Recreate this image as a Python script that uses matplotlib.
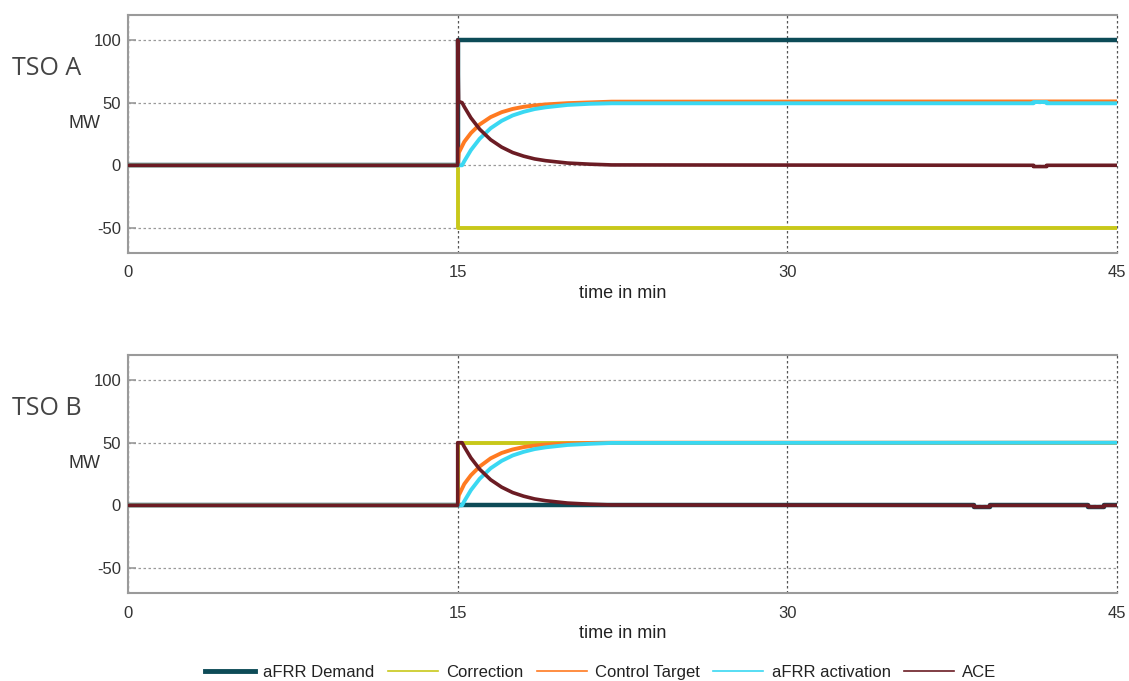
import matplotlib
matplotlib.use("Agg")
import matplotlib.pyplot as plt
from matplotlib.lines import Line2D

plt.rcParams['font.family'] = ['Liberation Sans', 'DejaVu Sans']
plt.rcParams['axes.unicode_minus'] = False

# --- data (time in min, power in MW) ---
demand_t_a = [0, 15, 15, 45]
demand_v_a = [0, 0, 100, 100]
demand_t_b = [0, 38.5, 38.5, 39.2, 39.2, 43.7, 43.7, 44.4, 44.4, 45]
demand_v_b = [0, 0, -1, -1, 0, 0, -1, -1, 0, 0]

corr_t = [0, 15, 15, 45]
corr_v_a = [0, 0, -50, -50]
corr_v_b = [0, 0, 50, 50]

target_t = [0, 15, 15.05, 15.3, 15.6, 16, 16.5, 17, 17.5, 18, 18.5, 19, 20, 21, 22, 45]
target_v_a = [0, 0, 10, 18.8, 25.7, 32.6, 38.5, 42.4, 45, 46.7, 47.8, 48.6, 49.6, 50.2, 50.8, 51]
target_v_b = [0, 0, 8, 17, 24, 31, 37.5, 41.8, 44.6, 46.5, 47.7, 48.5, 49.4, 49.8, 50, 50]

activ_t = [0, 15.2, 15.3, 15.6, 16, 16.5, 17, 17.5, 18, 18.5, 19, 20, 21, 22, 41.2, 41.2, 41.8, 41.8, 45]
activ_v_a = [0, 0, 3.3, 12.1, 21.2, 29.6, 35.5, 39.8, 42.7, 44.9, 46.3, 48.2, 49.1, 49.5, 49.5, 50.5, 50.5, 49.5, 49.5]
activ_v_b = [0, 0, 3.3, 12.1, 21.2, 29.6, 35.5, 39.8, 42.7, 44.9, 46.3, 48.2, 49.1, 49.8, 50, 50, 50, 50, 50]

ace_t_a = [0, 15, 15, 15.04, 15.2, 15.3, 15.6, 16, 16.5, 17, 17.5, 18, 18.5, 19, 20, 21, 22,
           41.2, 41.2, 41.8, 41.8, 45]
ace_v_a = [0, 0, 100, 51, 50, 46.7, 37.9, 28.8, 20.4, 14.5, 10.2, 7.3, 5.1, 3.7, 1.8, 0.9, 0.3,
           0, -1, -1, 0, 0]
ace_t_b = [0, 15, 15, 15.2, 15.3, 15.6, 16, 16.5, 17, 17.5, 18, 18.5, 19, 20, 21, 22,
           38.5, 38.5, 39.2, 39.2, 43.7, 43.7, 44.4, 44.4, 45]
ace_v_b = [0, 0, 50, 50, 46.7, 37.9, 28.8, 20.4, 14.5, 10.2, 7.3, 5.1, 3.7, 1.8, 0.9, 0.3,
           0, -1.2, -1.2, 0, 0, -1.2, -1.2, 0, 0]

x_ticks = [0, 15, 30, 45]
y_ticks = [-50, 0, 50, 100]
names = ["aFRR Demand", "Correction", "Control Target", "aFRR activation", "ACE"]
colors = ["#0d4b57", "#c8c81a", "#ff7a21", "#3ad8f2", "#6b1c24"]

fig = plt.figure(figsize=(11.29, 6.81), dpi=100)
ax_a = fig.add_axes([0.1134, 0.6285, 0.876, 0.3495])
ax_b = fig.add_axes([0.1134, 0.1292, 0.876, 0.3495])

panels = [
    (ax_a, "TSO A", demand_t_a, demand_v_a, corr_v_a, target_v_a, activ_v_a, ace_t_a, ace_v_a),
    (ax_b, "TSO B", demand_t_b, demand_v_b, corr_v_b, target_v_b, activ_v_b, ace_t_b, ace_v_b),
]

for ax, title, dt, dv, cv, tv, av, at, acv in panels:
    ax.plot(dt, dv, color=colors[0], lw=3.2, zorder=3)
    ax.plot(corr_t, cv, color=colors[1], lw=2.8, zorder=3)
    ax.plot(target_t, tv, color=colors[2], lw=2.8, zorder=4)
    ax.plot(activ_t, av, color=colors[3], lw=2.8, zorder=5)
    ax.plot(at, acv, color=colors[4], lw=2.6, zorder=6)

    ax.set_xlim(0, 45)
    ax.set_ylim(-70, 120)
    ax.set_xticks(x_ticks)
    ax.set_yticks(y_ticks)
    ax.tick_params(direction="in", length=6, width=1.2, color="#999999",
                   labelsize=12, labelcolor="#333333", pad=5)
    ax.tick_params(axis="x", length=0, pad=9)
    ax.yaxis.grid(True, linestyle=(0, (2, 2)), color="#9a9a9a", lw=0.9)
    ax.xaxis.grid(True, linestyle=(0, (2, 2)), color="#555555", lw=0.9)
    for gl in ax.get_xgridlines():
        gl.set_clip_on(False)
    ax.set_axisbelow(True)
    for s in ["left", "bottom", "top"]:
        ax.spines[s].set_color("#9a9a9a")
        ax.spines[s].set_linewidth(1.5)
    ax.spines["right"].set_visible(False)
    ax.set_xlabel("time in min", fontsize=13, color="#222222", labelpad=3)
    ax.text(-0.028, 33, "MW", transform=ax.get_yaxis_transform(), ha="right",
            va="center", fontsize=13, color="#333333")
    ax.text(-0.117, 77, title, transform=ax.get_yaxis_transform(), ha="left",
            va="center", fontsize=18, color="#444444", family=["Open Sans", "DejaVu Sans"])

handles = [Line2D([], [], color=colors[0], lw=3.5)]
handles += [Line2D([], [], color=c, lw=1.2) for c in colors[1:]]
fig.legend(handles, names, loc="center", bbox_to_anchor=(0.532, 0.013), ncol=5,
           frameon=False, fontsize=12, handlelength=3.0, columnspacing=0.8,
           handletextpad=0.5, labelcolor="#222222")

fig.savefig("out.png", dpi=100)
